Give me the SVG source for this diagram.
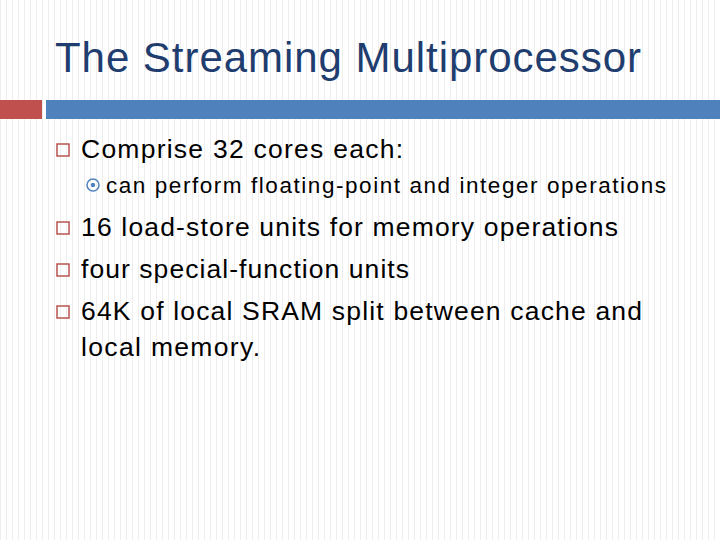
<svg xmlns="http://www.w3.org/2000/svg" width="720" height="540" viewBox="0 0 720 540">
<defs>
<pattern id="st" width="6" height="540" patternUnits="userSpaceOnUse"><rect x="0" y="0" width="1" height="540" fill="#eeeeee"/></pattern>
</defs>
<style>
.t{font-family:"Liberation Sans",Arial,sans-serif;fill:#000}
.sq{fill:none;stroke:#b85450;stroke-width:1.5}
</style>
<rect width="720" height="540" fill="#fff"/>
<rect width="720" height="540" fill="url(#st)"/>
<text x="55" y="72" font-family="Liberation Sans,Arial,sans-serif" font-size="42" fill="#1f3d6e" textLength="586" lengthAdjust="spacing">The Streaming Multiprocessor</text>
<rect x="0" y="100" width="42" height="19" fill="#c0504d"/>
<rect x="46" y="100" width="674" height="19" fill="#4f81bd"/>
<g id="b1"><rect class="sq" x="57" y="144" width="12" height="12"/><text class="t" x="81" y="158" font-size="26.5" textLength="322" lengthAdjust="spacing">Comprise 32 cores each:</text></g>
<g id="b1a"><circle cx="93" cy="185" r="6" fill="none" stroke="#4f81bd" stroke-width="1.5"/><circle cx="93" cy="185" r="2.2" fill="#4f81bd"/><text class="t" x="106" y="193" font-size="22.5" textLength="560" lengthAdjust="spacing">can  perform floating-point and integer operations</text></g>
<g id="b2"><rect class="sq" x="57" y="222" width="12" height="12"/><text class="t" x="81" y="236" font-size="26.5" textLength="537" lengthAdjust="spacing">16 load-store units for memory operations</text></g>
<g id="b3"><rect class="sq" x="57" y="264" width="12" height="12"/><text class="t" x="81" y="278" font-size="26.5" textLength="328" lengthAdjust="spacing">four special-function units</text></g>
<g id="b4"><rect class="sq" x="57" y="306" width="12" height="12"/><text class="t" x="81" y="320" font-size="26.5" textLength="561" lengthAdjust="spacing">64K of local SRAM split between cache and</text><text class="t" x="81" y="356" font-size="26.5" textLength="179" lengthAdjust="spacing">local memory.</text></g>
</svg>
